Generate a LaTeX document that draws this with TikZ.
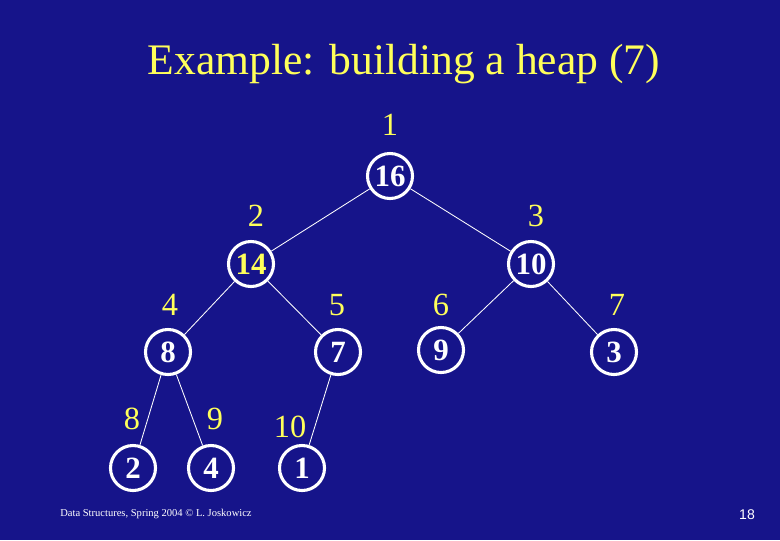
\documentclass[tikz,border=0pt]{standalone}
\usepackage{fontspec}
\setmainfont{Liberation Serif}
\newfontfamily\pagefont{Liberation Sans}
\usepackage{tikz}

\definecolor{slideblue}{RGB}{22,20,138}
\definecolor{slideyellow}{RGB}{255,255,90}

\tikzset{
  heapnode/.style={circle, draw=white, line width=2.2pt, minimum size=32pt,
    inner sep=0pt, text=white, font=\fontsize{22}{22}\selectfont\bfseries},
  hotnode/.style={heapnode, text=slideyellow},
  idxlabel/.style={text=slideyellow, font=\fontsize{23}{23}\selectfont},
  heapedge/.style={draw=white, line width=0.6pt}
}

\begin{document}
\begin{tikzpicture}[x=0.025cm, y=-0.025cm]
    \useasboundingbox (0,0) rectangle (780,540);
    \fill[slideblue] (0,0) rectangle (780,540);

    % ---------- title ----------
    \node[text=slideyellow, font=\fontsize{31}{31}\selectfont] (title) at (404,64) {Example: building a heap (7)};

    % ---------- tree nodes ----------
    \node[heapnode] (n1) at (390,176) {16};
    \node[hotnode]  (n2) at (251,264) {14};
    \node[heapnode] (n3) at (531,264) {10};
    \node[heapnode] (n4) at (168,352) {8};
    \node[heapnode] (n5) at (338,352) {7};
    \node[heapnode] (n6) at (441,350) {9};
    \node[heapnode] (n7) at (614,352) {3};
    \node[heapnode] (n8) at (133,468) {2};
    \node[heapnode] (n9) at (211,468) {4};
    \node[heapnode] (n10) at (302,468) {1};

    % edges
    \draw[heapedge] (n1) -- (n2);
    \draw[heapedge] (n1) -- (n3);
    \draw[heapedge] (n2) -- (n4);
    \draw[heapedge] (n2) -- (n5);
    \draw[heapedge] (n3) -- (n6);
    \draw[heapedge] (n3) -- (n7);
    \draw[heapedge] (n4) -- (n8);
    \draw[heapedge] (n4) -- (n9);
    \draw[heapedge] (n5) -- (n10);

    % ---------- array indices ----------
    \node[idxlabel] (i1) at (390,125) {1};
    \node[idxlabel] (i2) at (256,216) {2};
    \node[idxlabel] (i3) at (536,216) {3};
    \node[idxlabel] (i4) at (170,305) {4};
    \node[idxlabel] (i5) at (337,305) {5};
    \node[idxlabel] (i6) at (441,305) {6};
    \node[idxlabel] (i7) at (617,305) {7};
    \node[idxlabel] (i8) at (132,419) {8};
    \node[idxlabel] (i9) at (215,419) {9};
    \node[idxlabel] (i10) at (290,427) {10};

    % ---------- footer ----------
    \node[anchor=west, text=white, font=\fontsize{7.5}{7.5}\selectfont, inner sep=0pt] (foot) at (60,514) {Data Structures, Spring 2004 \textcopyright{} L. Joskowicz};
    \node[text=white, font=\pagefont\fontsize{10}{10}\selectfont] (page) at (747,515) {18};
\end{tikzpicture}
\end{document}
